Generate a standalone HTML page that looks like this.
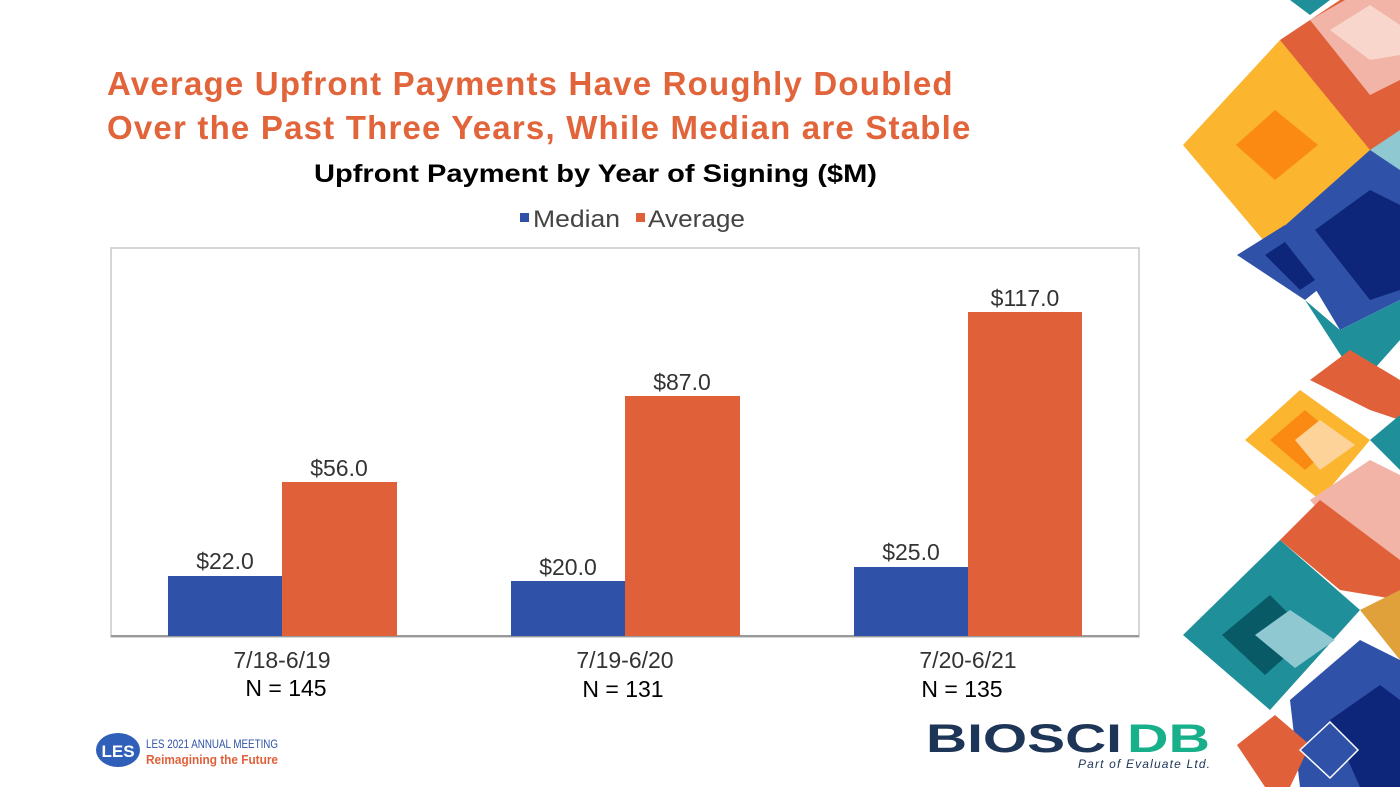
<!DOCTYPE html>
<html><head><style>
body{margin:0;width:1400px;height:787px;background:#fff;position:relative;overflow:hidden;font-family:"Liberation Sans",sans-serif}
.t{position:absolute;left:107px;top:62px;color:#e2643a;font-weight:bold;font-size:33px;letter-spacing:1.2px;line-height:44px;white-space:nowrap}
</style></head><body>
<div class="t">Average Upfront Payments Have Roughly Doubled<br>Over the Past Three Years, While Median are Stable</div>
<svg width="1400" height="787" style="position:absolute;left:0;top:0">
<g font-family="Liberation Sans, sans-serif">
<text x="314" y="182" font-size="25" font-weight="bold" fill="#000" textLength="563" lengthAdjust="spacingAndGlyphs">Upfront Payment by Year of Signing ($M)</text>
<rect x="520" y="213" width="9" height="9" fill="#2f52a8"/>
<text x="533" y="227" font-size="24" fill="#444" textLength="87" lengthAdjust="spacingAndGlyphs">Median</text>
<rect x="636" y="213" width="9" height="9" fill="#e0603a"/>
<text x="648" y="227" font-size="24" fill="#444" textLength="97" lengthAdjust="spacingAndGlyphs">Average</text>
<rect x="111" y="248" width="1028" height="389" fill="#fff" stroke="#c8c8c8" stroke-width="1.5"/>
<line x1="111" y1="636" x2="1139" y2="636" stroke="#999" stroke-width="2"/>
<rect x="168" y="576" width="114" height="60" fill="#2f52a8"/>
<rect x="282" y="482" width="115" height="154" fill="#e0603a"/>
<rect x="511" y="581" width="114" height="55" fill="#2f52a8"/>
<rect x="625" y="396" width="115" height="240" fill="#e0603a"/>
<rect x="854" y="567" width="114" height="69" fill="#2f52a8"/>
<rect x="968" y="312" width="114" height="324" fill="#e0603a"/>
<g font-size="23" fill="#333" text-anchor="middle">
<text x="225" y="569">$22.0</text><text x="339" y="476">$56.0</text>
<text x="568" y="575">$20.0</text><text x="682" y="390">$87.0</text>
<text x="911" y="560">$25.0</text><text x="1025" y="306">$117.0</text>
<text x="282" y="668">7/18-6/19</text><text x="625" y="668">7/19-6/20</text><text x="968" y="668">7/20-6/21</text>
</g>
<g font-size="23" fill="#000" text-anchor="middle">
<text x="286" y="696">N = 145</text><text x="623" y="697">N = 131</text><text x="962" y="697">N = 135</text>
</g>
<polygon points="1290,0 1330,0 1310,15" fill="#1f8f9a"/>
<polygon points="1280,40 1340,0 1400,0 1400,140 1350,170" fill="#e0603a"/>
<polygon points="1310,20 1345,0 1400,0 1400,80 1370,95" fill="#f2b4a6"/>
<polygon points="1330,30 1370,5 1400,25 1400,55 1370,60" fill="#f8d6cc"/>
<polygon points="1183,145 1280,40 1370,150 1280,260" fill="#fbb52f"/>
<polygon points="1236,145 1275,110 1318,145 1275,180" fill="#fb8a12"/>
<polygon points="1370,150 1400,130 1400,170" fill="#8fc8d0"/>
<polygon points="1280,230 1370,150 1400,170 1400,300 1340,330" fill="#2f52a8"/>
<polygon points="1315,230 1370,190 1400,205 1400,290 1370,300" fill="#0d2679"/>
<polygon points="1237,255 1285,225 1330,280 1305,300" fill="#2f52a8"/>
<polygon points="1265,255 1285,242 1315,280 1300,290" fill="#0d2679"/>
<polygon points="1305,300 1340,330 1400,300 1400,340 1360,385" fill="#1f8f9a"/>
<polygon points="1310,380 1350,350 1400,380 1400,420 1370,410" fill="#e0603a"/>
<polygon points="1245,440 1300,390 1370,440 1320,500" fill="#fbb52f"/>
<polygon points="1270,440 1305,410 1340,440 1305,470" fill="#fb8a12"/>
<polygon points="1295,440 1320,420 1355,445 1320,470" fill="#fdd39a"/>
<polygon points="1370,440 1400,415 1400,470" fill="#1f8f9a"/>
<polygon points="1310,500 1370,460 1400,475 1400,560 1360,560" fill="#f2b4a6"/>
<polygon points="1280,540 1320,500 1400,560 1400,600 1340,590" fill="#e0603a"/>
<polygon points="1183,635 1280,540 1360,610 1270,710" fill="#1f8f9a"/>
<polygon points="1222,635 1270,595 1310,635 1265,675" fill="#075a66"/>
<polygon points="1255,635 1290,610 1335,640 1295,668" fill="#8fc8d0"/>
<polygon points="1360,610 1400,590 1400,660" fill="#e0a03a"/>
<polygon points="1290,700 1360,640 1400,660 1400,787 1300,787" fill="#2f52a8"/>
<polygon points="1330,720 1380,685 1400,700 1400,787 1360,787" fill="#0d2679"/>
<polygon points="1237,745 1275,715 1310,745 1290,787 1265,787" fill="#e0603a"/>
<polygon points="1300,750 1330,722 1358,750 1330,778" fill="#2f52a8" stroke="#fff" stroke-width="1.5"/>
<ellipse cx="118" cy="750" rx="22" ry="17" fill="#2f5fb8"/>
<text x="118" y="757" text-anchor="middle" font-size="17" font-weight="bold" fill="#fff">LES</text>
<text x="146" y="748" font-size="12" fill="#2f52a8" textLength="132" lengthAdjust="spacingAndGlyphs">LES 2021 ANNUAL MEETING</text>
<text x="146" y="764" font-size="13" font-weight="bold" fill="#e0603a" textLength="132" lengthAdjust="spacingAndGlyphs">Reimagining the Future</text>
<text x="926" y="752" font-size="40" font-weight="bold" fill="#1d3557" textLength="196" lengthAdjust="spacingAndGlyphs">BIOSCI</text>
<text x="1127" y="752" font-size="40" font-weight="bold" fill="#18b08a" textLength="83" lengthAdjust="spacingAndGlyphs">DB</text>
<text x="1078" y="768" font-size="12" font-style="italic" fill="#1d3557" textLength="132">Part of Evaluate Ltd.</text>
</g>
</svg>
</body></html>
